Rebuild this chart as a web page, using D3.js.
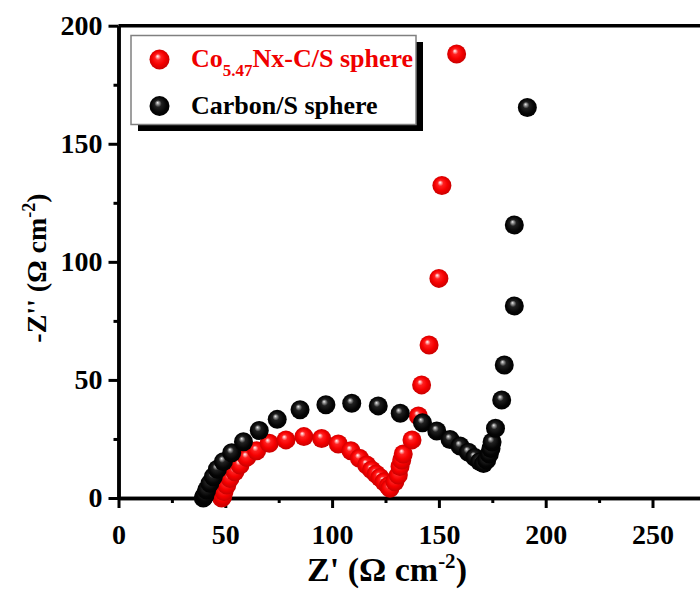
<!DOCTYPE html>
<html>
<head>
<meta charset="utf-8">
<script src="https://cdn.jsdelivr.net/npm/d3@7"></script>
<style>
  body { margin: 0; background: #fff; }
  svg { display: block; }
  text { font-family: "Liberation Serif", "Times New Roman", serif; font-weight: bold; }
</style>
</head>
<body>
<svg id="chart" width="700" height="590"></svg>
<script>
// Nyquist data: real part Z' and imaginary part -Z'' (Ω cm^-2)
const redZre = [48.3, 48.8, 49.4, 50.7, 52.2, 54.5, 56.9, 60.0, 64.7, 70.6, 78.4, 86.8, 95.1, 102.9,
  108.8, 112.8, 116.2, 118.5, 120.6, 122.4, 124.3, 126.3, 127.1, 129.4, 131.0, 131.8, 132.6, 133.3,
  137.4, 140.4, 141.9, 145.4, 150.0, 151.4, 158.3];
const redZim = [0.0, 0.6, 2.7, 5.5, 8.3, 11.1, 14.0, 17.2, 20.0, 23.2, 24.6, 26.0, 25.2, 22.9,
  20.0, 16.8, 14.0, 11.9, 10.2, 8.7, 6.9, 5.1, 4.1, 6.9, 9.7, 13.3, 16.1, 18.6,
  24.6, 34.7, 47.9, 64.8, 93.0, 132.3, 188.0];

const blackZre = [39.7, 40.1, 40.5, 41.3, 42.8, 44.4, 46.3, 49.1, 53.0, 58.5, 65.9, 74.3, 85.0,
  97.1, 109.2, 121.6, 131.9, 142.3, 149.0, 155.2, 159.9, 163.8, 166.8, 169.1, 170.9, 172.4,
  173.6, 174.4, 174.9, 176.5, 179.4, 180.6, 185.3, 185.3, 191.4];
const blackZim = [0.0, 0.6, 1.3, 3.4, 6.2, 9.0, 12.2, 15.4, 19.2, 23.8, 28.6, 33.3, 37.4,
  39.5, 40.1, 39.0, 35.9, 31.9, 28.4, 24.8, 22.0, 19.4, 17.2, 15.4, 14.6, 16.1,
  18.6, 21.0, 23.7, 29.5, 41.5, 56.3, 81.3, 115.6, 165.4];

const xTicks = [0, 50, 100, 150, 200, 250];
const xMinorTicks = [25, 75, 125, 175, 225];
const yTicks = [0, 50, 100, 150, 200];
const yMinorTicks = [25, 75, 125, 175];

const svg = d3.select("#chart");

const x = d3.scaleLinear().domain([0, 300]).range([118.5, 118.5 + 300 * 2.136]);
const y = d3.scaleLinear().domain([0, 200]).range([498, 25.7]);

// glossy sphere fills
const defs = svg.append("defs");
function sphere(id, stops) {
  const g = defs.append("radialGradient").attr("id", id)
    .attr("cx", "50%").attr("cy", "50%").attr("r", "55%")
    .attr("fx", "40%").attr("fy", "33%");
  stops.forEach(([o, c]) => g.append("stop").attr("offset", o).attr("stop-color", c));
}
sphere("ballRed", [["0%", "#ffffff"], ["10%", "#ffb0b0"], ["28%", "#ff2020"], ["60%", "#f50000"], ["100%", "#c00000"]]);
sphere("ballBlack", [["0%", "#f0f0f0"], ["12%", "#9a9a9a"], ["32%", "#202020"], ["70%", "#050505"], ["100%", "#000000"]]);

// axes
const axisStyle = g => {
  g.select(".domain").attr("stroke", "#000").attr("stroke-width", 3.5);
  g.selectAll(".tick line").attr("stroke", "#000").attr("stroke-width", 3);
  g.selectAll(".tick text").attr("fill", "#000")
    .style("font-family", '"Liberation Serif", "Times New Roman", serif')
    .style("font-weight", "bold").style("font-size", "28px");
};

svg.append("g").attr("transform", `translate(0,${y(0)})`)
  .call(d3.axisBottom(x).tickValues(xMinorTicks).tickSize(5).tickSizeOuter(0).tickFormat(""))
  .call(axisStyle);
svg.append("g").attr("transform", `translate(0,${y(0)})`)
  .call(d3.axisBottom(x).tickValues(xTicks).tickSize(10).tickSizeOuter(0).tickPadding(16).tickFormat(d3.format("d")))
  .call(axisStyle);

svg.append("g").attr("transform", `translate(${x(0)},0)`)
  .call(d3.axisLeft(y).tickValues(yMinorTicks).tickSize(5).tickSizeOuter(0).tickFormat(""))
  .call(axisStyle);
svg.append("g").attr("transform", `translate(${x(0)},0)`)
  .call(d3.axisLeft(y).tickValues(yTicks).tickSize(10).tickSizeOuter(0).tickPadding(6).tickFormat(d3.format("d")))
  .call(axisStyle);

// top frame line
svg.append("line")
  .attr("x1", x(0)).attr("x2", x(300)).attr("y1", y(200)).attr("y2", y(200))
  .attr("stroke", "#000").attr("stroke-width", 3.5);

// data markers
const R = 9.5;
function drawSeries(re, im, fill) {
  svg.append("g").selectAll("circle")
    .data(re.map((v, i) => [v, im[i]]))
    .join("circle")
    .attr("cx", d => x(d[0])).attr("cy", d => y(d[1])).attr("r", R)
    .attr("fill", `url(#${fill})`);
}
drawSeries(redZre, redZim, "ballRed");
drawSeries(blackZre, blackZim, "ballBlack");

// legend
const lg = svg.append("g");
lg.append("rect").attr("x", 138).attr("y", 42).attr("width", 285).attr("height", 89).attr("fill", "#000");
lg.append("rect").attr("x", 131).attr("y", 35.5).attr("width", 285).attr("height", 89)
  .attr("fill", "#fff").attr("stroke", "#808080").attr("stroke-width", 1.5);
lg.append("circle").attr("cx", 159.5).attr("cy", 59.5).attr("r", 10).attr("fill", "url(#ballRed)");
lg.append("circle").attr("cx", 159.5).attr("cy", 106).attr("r", 10).attr("fill", "url(#ballBlack)");

const t1 = lg.append("text").attr("x", 191).attr("y", 67).attr("fill", "#f00000").style("font-size", "26px");
t1.append("tspan").text("Co");
t1.append("tspan").attr("dy", 9).style("font-size", "17px").text("5.47");
t1.append("tspan").attr("dy", -9).text("Nx-C/S sphere");
lg.append("text").attr("x", 191).attr("y", 114).attr("fill", "#000").style("font-size", "26px")
  .text("Carbon/S sphere");

// axis titles
const xt = svg.append("text").attr("x", 387).attr("y", 581).attr("text-anchor", "middle")
  .attr("fill", "#000").style("font-size", "34px");
xt.append("tspan").text("Z' (Ω cm");
xt.append("tspan").attr("dy", -13).style("font-size", "21px").text("-2");
xt.append("tspan").attr("dy", 13).text(")");

const yt = svg.append("text").attr("transform", "translate(46,268) rotate(-90)")
  .attr("text-anchor", "middle").attr("fill", "#000").style("font-size", "28px");
yt.append("tspan").text("-Z'' (Ω cm");
yt.append("tspan").attr("dy", -11).style("font-size", "18px").text("-2");
yt.append("tspan").attr("dy", 11).text(")");
</script>
</body>
</html>
